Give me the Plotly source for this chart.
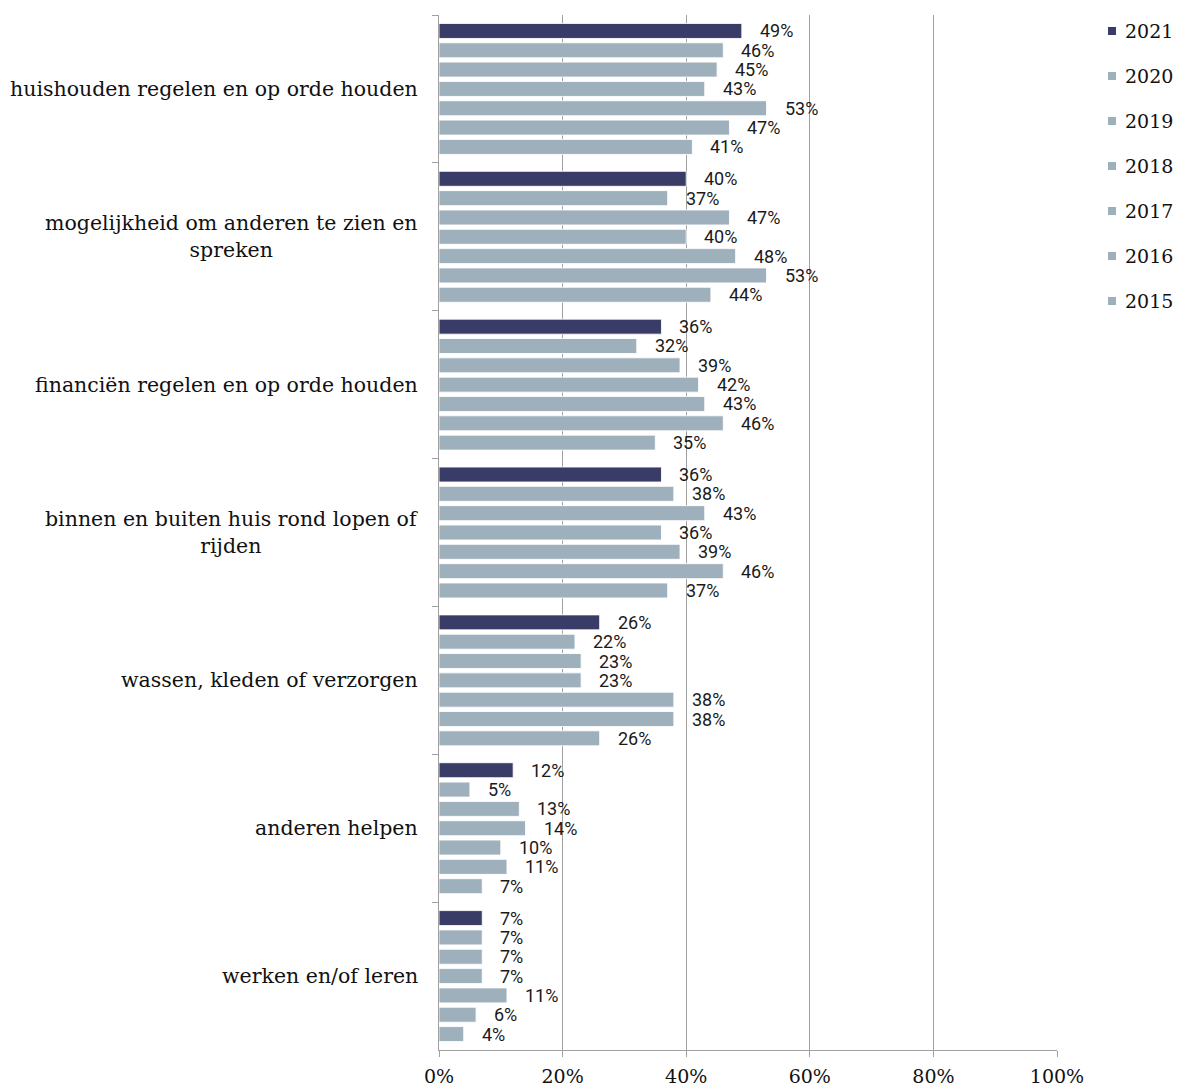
import plotly.graph_objects as go

# Activities (top to bottom) and survey years
categories = [
    "huishouden regelen en op orde houden",
    "mogelijkheid om anderen te zien en<br>spreken",
    "financiën regelen en op orde houden",
    "binnen en buiten huis rond lopen of<br>rijden",
    "wassen, kleden of verzorgen",
    "anderen helpen",
    "werken en/of leren",
]
years = ["2021", "2020", "2019", "2018", "2017", "2016", "2015"]

# Percentage per activity, one list per year
v2021 = [49, 40, 36, 36, 26, 12, 7]
v2020 = [46, 37, 32, 38, 22, 5, 7]
v2019 = [45, 47, 39, 43, 23, 13, 7]
v2018 = [43, 40, 42, 36, 23, 14, 7]
v2017 = [53, 48, 43, 39, 38, 10, 11]
v2016 = [47, 53, 46, 46, 38, 11, 6]
v2015 = [41, 44, 35, 37, 26, 7, 4]
values = [v2021, v2020, v2019, v2018, v2017, v2016, v2015]

DARK = "#393c67"
LIGHT = "#9fb0bd"
colors = [DARK] + [LIGHT] * 6

SERIF = "DejaVu Serif"
SANS = "Roboto"

W, H = 1180, 1088
ML, MR, MT, MB = 439, 123, 15, 38
PW, PH = W - ML - MR, H - MT - MB

fig = go.Figure()

for yr, vals, col in zip(years, values, colors):
    fig.add_trace(go.Bar(
        y=categories, x=vals, orientation="h", name=yr,
        marker=dict(color=col, line=dict(color="rgba(255,255,255,0.85)", width=1)),
        showlegend=False, hoverinfo="x+name",
    ))

# Value labels to the right of each bar
n = len(years)
BARGAP = 0.085
slot = (1 - BARGAP) / n
for i, (yr, vals) in enumerate(zip(years, values)):
    off = -(1 - BARGAP) / 2 + slot * (i + 0.5)
    for j, v in enumerate(vals):
        fig.add_annotation(
            x=v, y=j + off, xref="x", yref="y",
            text=f"{v}%", showarrow=False,
            xanchor="left", yanchor="middle", xshift=16,
            font=dict(family=SANS, size=18, color="#1a1a1a"),
        )

# Category labels, centred lines, right edge left of the axis
for j, c in enumerate(categories):
    fig.add_annotation(
        x=0, y=j, xref="paper", yref="y",
        text=c, showarrow=False, align="center",
        xanchor="right", yanchor="middle", xshift=-19,
        font=dict(family=SERIF, size=20.5, color="#111111"),
    )

# Legend: small squares with year labels, right of the plot
LEG_X = 1112      # square centre, px
LEG_Y0 = 31       # first row centre, px
LEG_STEP = 45
for k, (yr, col) in enumerate(zip(years, colors)):
    cy = LEG_Y0 + k * LEG_STEP
    x0 = (LEG_X - 4 - ML) / PW
    x1 = (LEG_X + 4 - ML) / PW
    y0 = 1 - (cy + 4 - MT) / PH
    y1 = 1 - (cy - 4 - MT) / PH
    fig.add_shape(type="rect", xref="paper", yref="paper",
                  x0=x0, x1=x1, y0=y0, y1=y1,
                  fillcolor=col, line=dict(width=0))
    fig.add_annotation(
        x=(LEG_X + 11 - ML) / PW, y=1 - (cy - MT) / PH,
        xref="paper", yref="paper", text=yr, showarrow=False,
        xanchor="left", yanchor="middle",
        font=dict(family=SERIF, size=19, color="#111111"),
    )

fig.update_layout(
    width=W, height=H,
    margin=dict(l=ML, r=MR, t=MT, b=MB, autoexpand=False),
    paper_bgcolor="white", plot_bgcolor="white",
    barmode="group", bargap=BARGAP, bargroupgap=0.224,
    showlegend=False,
    xaxis=dict(
        range=[0, 100], tickvals=[0, 20, 40, 60, 80, 100],
        ticktext=["0%", "20%", "40%", "60%", "80%", "100%"],
        showgrid=True, gridcolor="#a0a0a0", gridwidth=1.3,
        showline=True, linecolor="#a0a0a0", linewidth=1.3,
        ticks="outside", ticklen=6, tickcolor="#a0a0a0", tickwidth=1.3,
        ticklabelstandoff=3, automargin=False,
        tickfont=dict(family=SERIF, size=19, color="#111111"),
        zeroline=False, fixedrange=True,
    ),
    yaxis=dict(
        autorange="reversed", showticklabels=False,
        showline=True, linecolor="#a0a0a0", linewidth=1.3,
        ticks="outside", ticklen=6, tickcolor="#a0a0a0", tickwidth=1.3,
        tickson="boundaries", showgrid=False, fixedrange=True,
        automargin=False,
    ),
)

fig.write_html("out.html")
